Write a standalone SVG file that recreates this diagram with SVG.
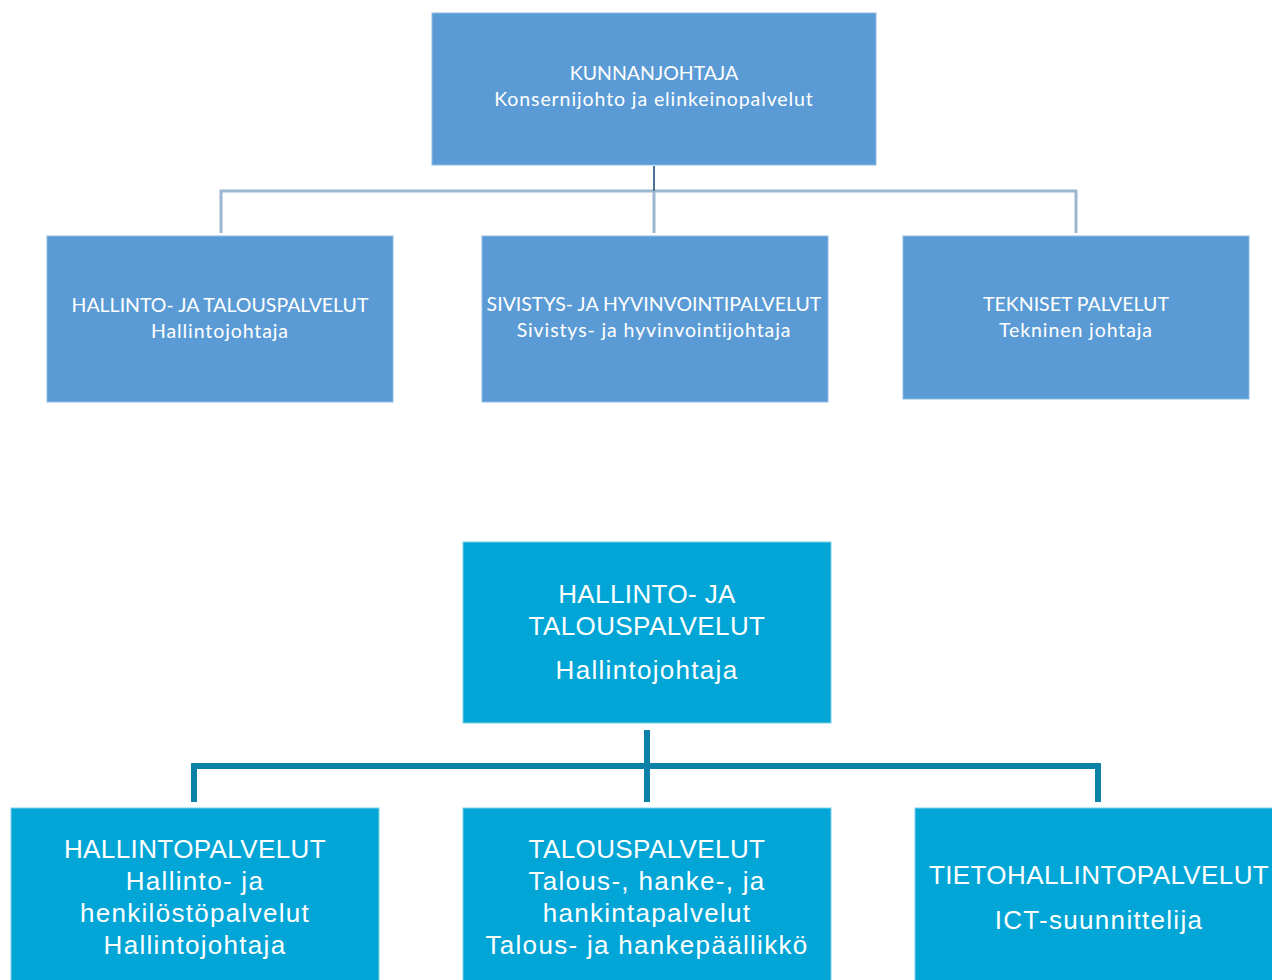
<svg xmlns="http://www.w3.org/2000/svg" width="1272" height="980" viewBox="0 0 1272 980">
<style>
.n1 { fill: #5b9bd5; stroke: #8fbbe6; stroke-width: 1; }
.n2 { fill: #02a6d6; stroke: #7fd0ea; stroke-width: 1; }
.t1 { font-family: Lato, "Liberation Sans", sans-serif; font-size: 19.5px; fill: #ffffff; text-anchor: middle; }
.t2 { font-family: "Liberation Sans", Arial, sans-serif; font-size: 26px; fill: #ffffff; text-anchor: middle; letter-spacing: 0.4px; }
.lc1 { letter-spacing: 0.9px; }
.lc2 { letter-spacing: 1.3px; }
.c1 { stroke: #9cb6d0; stroke-width: 3; fill: none; }
.c1d { stroke: #4d7298; stroke-width: 2; fill: none; }
.c2 { stroke: #0b80a8; stroke-width: 6; fill: none; }
</style>
<rect width="1272" height="980" fill="#ffffff"/>
<g id="connectors">
  <path class="c1" d="M221 233 V191 H1076 V233 M654 191 V233"/>
  <path class="c1d" d="M654 166 V191"/>
  <path class="c2" d="M647 730 V802 M194 802 V766 H1098 V802"/>
</g>
<g id="kunnanjohtaja">
  <rect class="n1" x="432" y="13" width="444" height="152"/>
  <text class="t1" x="654" y="80">KUNNANJOHTAJA</text>
  <text class="t1 lc1" x="654" y="106">Konsernijohto ja elinkeinopalvelut</text>
</g>
<g id="hallinto-talous">
  <rect class="n1" x="47" y="236" width="346" height="166"/>
  <text class="t1" x="220" y="312">HALLINTO- JA TALOUSPALVELUT</text>
  <text class="t1 lc1" x="220" y="338">Hallintojohtaja</text>
</g>
<g id="sivistys">
  <rect class="n1" x="482" y="236" width="346" height="166"/>
  <text class="t1" x="654" y="311">SIVISTYS- JA HYVINVOINTIPALVELUT</text>
  <text class="t1 lc1" x="654" y="337">Sivistys- ja hyvinvointijohtaja</text>
</g>
<g id="tekniset">
  <rect class="n1" x="903" y="236" width="346" height="163"/>
  <text class="t1" x="1076" y="311">TEKNISET PALVELUT</text>
  <text class="t1 lc1" x="1076" y="337">Tekninen johtaja</text>
</g>
<g id="hallinto-talous-2">
  <rect class="n2" x="463" y="542" width="368" height="181"/>
  <text class="t2" x="647" y="603">HALLINTO- JA</text>
  <text class="t2" x="647" y="635">TALOUSPALVELUT</text>
  <text class="t2 lc2" x="647" y="679">Hallintojohtaja</text>
</g>
<g id="hallintopalvelut">
  <rect class="n2" x="11" y="808" width="368" height="180"/>
  <text class="t2" x="195" y="858">HALLINTOPALVELUT</text>
  <text class="t2 lc2" x="195" y="890">Hallinto- ja</text>
  <text class="t2 lc2" x="195" y="922">henkilöstöpalvelut</text>
  <text class="t2 lc2" x="195" y="954">Hallintojohtaja</text>
</g>
<g id="talouspalvelut">
  <rect class="n2" x="463" y="808" width="368" height="180"/>
  <text class="t2" x="647" y="858">TALOUSPALVELUT</text>
  <text class="t2 lc2" x="647" y="890">Talous-, hanke-, ja</text>
  <text class="t2 lc2" x="647" y="922">hankintapalvelut</text>
  <text class="t2 lc2" x="647" y="954">Talous- ja hankepäällikkö</text>
</g>
<g id="tietohallinto">
  <rect class="n2" x="915" y="808" width="368" height="180"/>
  <text class="t2" x="1099" y="884">TIETOHALLINTOPALVELUT</text>
  <text class="t2 lc2" x="1099" y="929">ICT-suunnittelija</text>
</g>
</svg>
